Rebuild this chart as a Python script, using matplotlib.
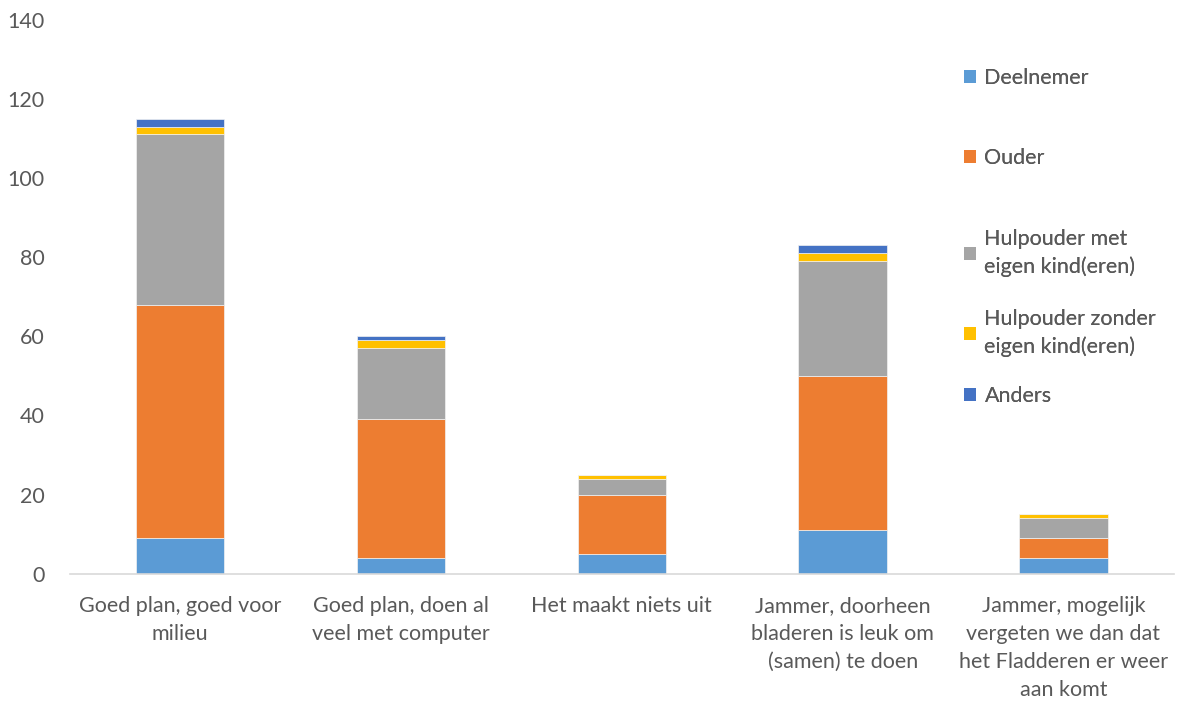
import matplotlib.pyplot as plt
from matplotlib.patches import Patch
import numpy as np

plt.rcParams['font.family'] = ['Lato', 'DejaVu Sans']

categories = [
    'Goed plan, goed voor\nmilieu',
    'Goed plan, doen al\nveel met computer',
    'Het maakt niets uit',
    'Jammer, doorheen\nbladeren is leuk om\n(samen) te doen',
    'Jammer, mogelijk\nvergeten we dan dat\nhet Fladderen er weer\naan komt',
]
series_names = [
    'Deelnemer',
    'Ouder',
    'Hulpouder met\neigen kind(eren)',
    'Hulpouder zonder\neigen kind(eren)',
    'Anders',
]
deelnemer = [9, 4, 5, 11, 4]
ouder = [59, 35, 15, 39, 5]
hulpouder_met = [43, 18, 4, 29, 5]
hulpouder_zonder = [2, 2, 1, 2, 1]
anders = [2, 1, 0, 2, 0]

colors = ['#5b9bd5', '#ed7d31', '#a5a5a5', '#ffc000', '#4472c4']
text_color = '#595959'
fs = 15.5

fig = plt.figure(figsize=(11.81, 7.04), dpi=100)
ax = fig.add_axes([0.059, 0.185, 0.935, 0.787])

x = np.arange(len(categories))
bottom = np.zeros(len(categories))
for vals, col in zip([deelnemer, ouder, hulpouder_met, hulpouder_zonder, anders], colors):
    ax.bar(x, vals, 0.4, bottom=bottom, color=col, edgecolor='#f2f2f2', linewidth=0.5)
    bottom += np.array(vals)

ax.set_xlim(-0.5, len(categories) - 0.5)
ax.set_ylim(0, 140)
ax.set_yticks(range(0, 141, 20))
ax.set_xticks(x)
ax.set_xticklabels(categories, fontsize=fs, color=text_color, linespacing=1.5)
ax.tick_params(axis='y', labelsize=fs, labelcolor=text_color, length=0, pad=18)
ax.tick_params(axis='x', length=0, pad=16)
for s in ['top', 'right', 'left']:
    ax.spines[s].set_visible(False)
ax.spines['bottom'].set_color('#d9d9d9')
ax.spines['bottom'].set_linewidth(1.2)

# legend entries, placed one by one like Excel spreads them
legend_y = [78, 158, 253, 333, 396]
for name, col, ypix in zip(series_names, colors, legend_y):
    leg = fig.legend(handles=[Patch(facecolor=col, label=name)],
                     loc='center left', bbox_to_anchor=(964 / 1181, 1 - ypix / 704),
                     frameon=False, fontsize=fs, handlelength=0.55, handleheight=0.55,
                     handletextpad=0.4, borderpad=0, borderaxespad=0)
    for t in leg.get_texts():
        t.set_color(text_color)
        t.set_linespacing(1.45)
    fig.add_artist(leg)

fig.savefig('out.png', dpi=100)
